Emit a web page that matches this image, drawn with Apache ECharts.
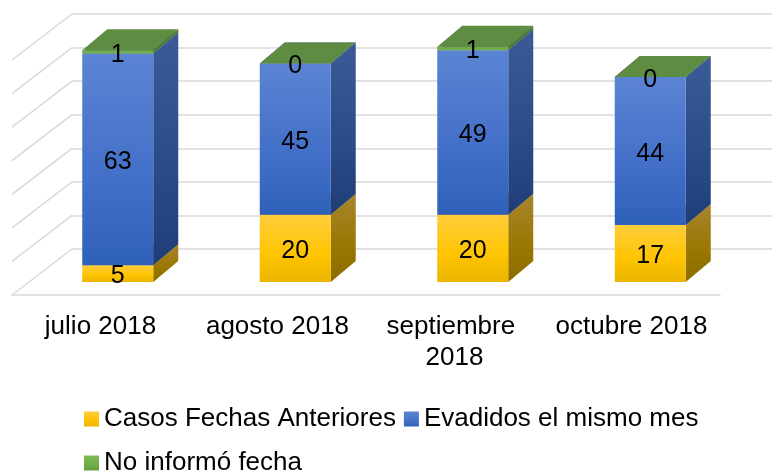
<!DOCTYPE html>
<html>
<head>
<meta charset="utf-8">
<script src="https://cdn.jsdelivr.net/npm/echarts@6/dist/echarts.min.js"></script>
<style>
  html, body { margin: 0; padding: 0; background: #fff; }
  #chart { width: 772px; height: 473px; }
</style>
</head>
<body>
<div id="chart"></div>
<script>
// datos
var categories = ["julio 2018", "agosto 2018", "septiembre 2018", "octubre 2018"];
var casosAnteriores = [5, 20, 20, 17];
var evadidosMes = [63, 45, 49, 44];
var noInformo = [1, 0, 1, 0];
var yTicks = [0, 10, 20, 30, 40, 50, 60, 70];

// desplazamiento de profundidad (efecto 3D)
var BAR_DX = 25, BAR_DY = -21;
var WALL_DX = -60, WALL_DY = 46;

function grad(c1, c2, c3) {
  return {
    type: "linear", x: 0, y: 0, x2: 0, y2: 1,
    colorStops: [
      { offset: 0, color: c1 },
      { offset: 0.6, color: c2 },
      { offset: 1, color: c3 }
    ]
  };
}

// acumula el apilado
function buildStack(values, below) {
  return values.map(function (v, i) {
    var lo = below ? below[i] : 0;
    return [i, lo, lo + v, v];
  });
}
var s1 = buildStack(casosAnteriores);
var s2 = buildStack(evadidosMes, s1.map(function (d) { return d[2]; }));
var s3 = buildStack(noInformo, s2.map(function (d) { return d[2]; }));

function barRenderer(front, side, top) {
  return function (params, api) {
    var idx = api.value(0), lo = api.value(1), hi = api.value(2), val = api.value(3);
    var p0 = api.coord([idx, lo]);
    var p1 = api.coord([idx, hi]);
    var w = api.size([1, 0])[0] * 0.4;
    var x0 = p0[0] - w / 2, x1 = p0[0] + w / 2;
    var yb = p0[1], yt = p1[1];
    return {
      type: "group",
      children: [
        {
          type: "polygon",
          shape: { points: [[x1, yt], [x1, yb], [x1 + BAR_DX, yb + BAR_DY], [x1 + BAR_DX, yt + BAR_DY]] },
          style: { fill: side }
        },
        {
          type: "rect",
          shape: { x: x0, y: yt, width: w, height: yb - yt },
          style: { fill: front }
        },
        {
          type: "polygon",
          shape: { points: [[x0, yt], [x1, yt], [x1 + BAR_DX, yt + BAR_DY], [x0 + BAR_DX, yt + BAR_DY]] },
          style: { fill: top }
        },
        {
          type: "text",
          z2: 100,
          style: {
            x: p0[0], y: (yb + yt) / 2 + 3,
            text: String(val),
            align: "center", verticalAlign: "middle",
            fontFamily: "Liberation Sans, Arial", fontSize: 25, fill: "#000"
          }
        }
      ]
    };
  };
}

var myChart = echarts.init(document.getElementById("chart"));
var option = {
  animation: false,
  grid: [
    { left: 29, right: 33, top: 46.8, bottom: 191 },   // plano frontal de barras
    { left: 72, right: -8, top: 14, bottom: 224 },     // pared del fondo
    { left: 12, right: 52, top: 60, bottom: 178 }      // borde frontal del piso
  ],
  xAxis: [
    { type: "category", gridIndex: 0, data: categories, show: false },
    { type: "category", gridIndex: 1, data: categories, show: false },
    {
      type: "category", gridIndex: 2, data: categories,
      axisLine: { lineStyle: { color: "#D9D9D9", width: 1.5 } },
      axisTick: { show: false },
      axisLabel: {
        margin: 16, color: "#000", fontSize: 26, fontFamily: "Liberation Sans, Arial",
        width: 165, overflow: "break", lineHeight: 31, interval: 0
      }
    }
  ],
  yAxis: [
    { type: "value", gridIndex: 0, min: 0, max: 70, interval: 10, show: false },
    {
      type: "value", gridIndex: 1, min: 0, max: 70, interval: 10,
      axisLine: { show: false }, axisTick: { show: false }, axisLabel: { show: false },
      splitLine: { lineStyle: { color: "#D9D9D9", width: 1.5 } }
    },
    { type: "value", gridIndex: 2, min: 0, max: 70, interval: 10, show: false }
  ],
  legend: {
    left: 79, top: 396, width: 660,
    itemWidth: 15, itemHeight: 15, itemGap: 8,
    icon: "rect",
    textStyle: { fontSize: 26, color: "#000", fontFamily: "Liberation Sans, Arial", lineHeight: 36 },
    data: ["Casos Fechas Anteriores", "Evadidos el mismo mes", "No informó fecha"]
  },
  series: [
    {
      // líneas diagonales de la pared lateral
      type: "custom", xAxisIndex: 1, yAxisIndex: 1, silent: true, z: 1,
      data: yTicks.map(function (v) { return [0, v]; }),
      renderItem: function (params, api) {
        var p = api.coord([0, api.value(1)]);
        var x = p[0] - api.size([1, 0])[0] / 2;
        return {
          type: "line",
          shape: { x1: x, y1: p[1], x2: x + WALL_DX, y2: p[1] + WALL_DY },
          style: { stroke: "#D9D9D9", lineWidth: 1.5 }
        };
      }
    },
    {
      name: "Casos Fechas Anteriores",
      type: "custom", xAxisIndex: 0, yAxisIndex: 0,
      itemStyle: { color: grad("#FFCD3C", "#FFC000", "#EDB600") },
      data: s1,
      renderItem: barRenderer(
        grad("#FFCD3C", "#FFC400", "#EAB500"),
        grad("#A8852E", "#997700", "#8C6C00"),
        "#B8901A"
      )
    },
    {
      name: "Evadidos el mismo mes",
      type: "custom", xAxisIndex: 0, yAxisIndex: 0,
      itemStyle: { color: grad("#5B84D3", "#4472C4", "#2F62BC") },
      data: s2,
      renderItem: barRenderer(
        grad("#5B84D3", "#426FC8", "#2F61BA"),
        grad("#3C5A98", "#2A4A88", "#1F3E78"),
        "#4A6AB0"
      )
    },
    {
      name: "No informó fecha",
      type: "custom", xAxisIndex: 0, yAxisIndex: 0,
      itemStyle: { color: grad("#7DBA55", "#70AD47", "#60A03C") },
      data: s3,
      renderItem: barRenderer("#70AD47", "#4F7A35", "#5E8C42")
    }
  ]
};
myChart.setOption(option);
window.onresize = function () {
  myChart.resize();
};
</script>
</body>
</html>
